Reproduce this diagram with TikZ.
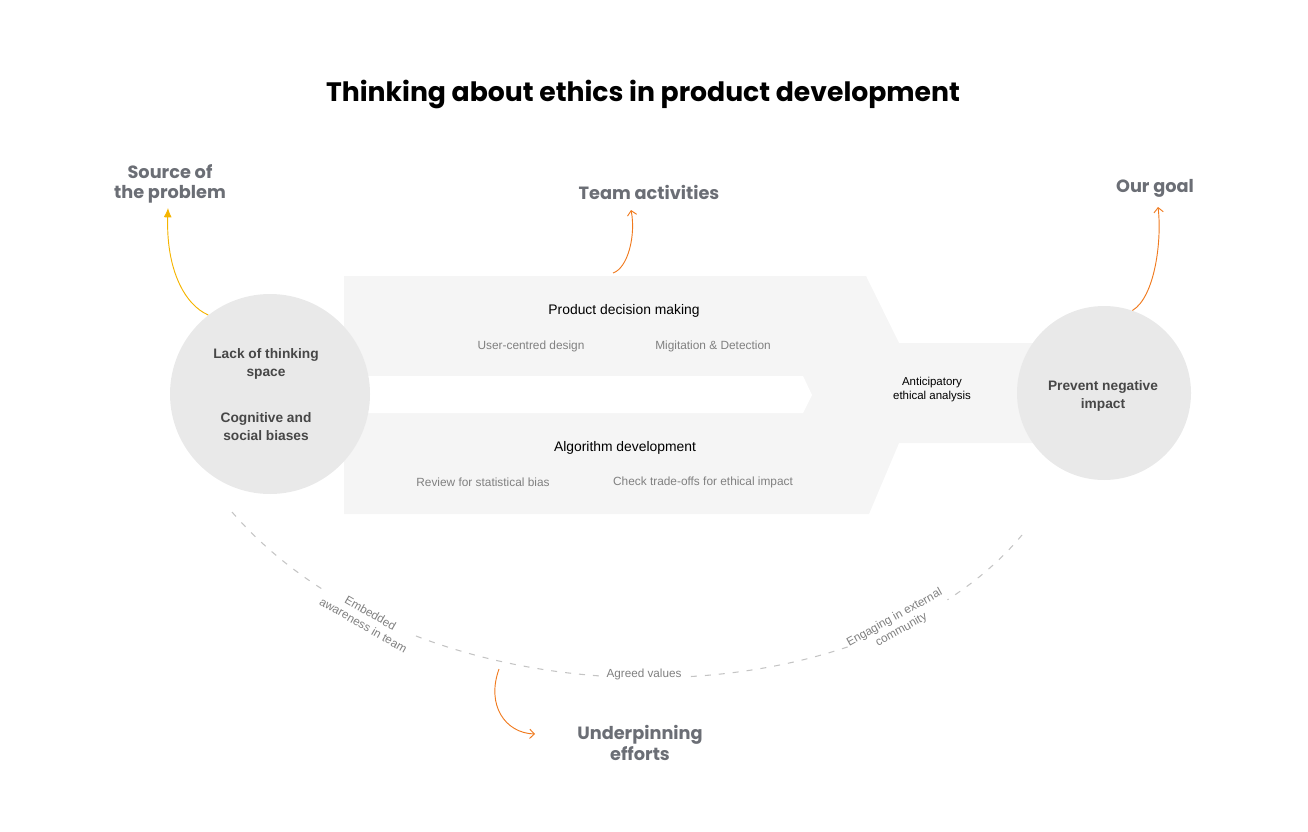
\documentclass[tikz,border=0pt]{standalone}
\usepackage{fontspec}
\setmainfont{Liberation Sans}
\newfontfamily\headfont{Poppins}
\usetikzlibrary{arrows.meta}

\definecolor{panelgray}{HTML}{F5F5F5}
\definecolor{bubblegray}{HTML}{E9E9E9}
\definecolor{headgray}{HTML}{6B6E75}
\definecolor{itemgray}{HTML}{808080}
\definecolor{darktext}{HTML}{474747}
\definecolor{arcgray}{HTML}{C4C4C4}
\definecolor{arroworange}{HTML}{F07A1E}
\definecolor{amber}{HTML}{F5B400}

\tikzset{
  heading/.style={font=\headfont\bfseries\fontsize{13.3}{15}\selectfont, text=headgray, align=center},
  bubble/.style={circle, fill=bubblegray, inner sep=0pt},
  bubbletext/.style={font=\bfseries\fontsize{10.3}{13.5}\selectfont, text=darktext, align=center},
  lane/.style={font=\fontsize{10.4}{12}\selectfont},
  item/.style={font=\fontsize{8.9}{10}\selectfont, text=itemgray},
  arclabel/.style={font=\fontsize{8.8}{10.6}\selectfont, text=itemgray, align=center, fill=white, inner sep=1pt},
  curvedarrow/.style={draw=arroworange, line width=0.7pt, -{Straight Barb[length=3.5pt,width=7pt]}},
}

\begin{document}
\begin{tikzpicture}[x=0.75pt,y=-0.75pt]
\useasboundingbox (0,0) rectangle (1308,831);

% title
\node (title) at (643,94) {\headfont\bfseries\fontsize{20}{22}\selectfont Thinking about ethics in product development};

% team activities band
\fill[panelgray] (344,276)--(866,276)--(899,343)--(1040,343)--(1040,443)--(899,443)--(869,514)--(344,514)--cycle;
\fill[white] (344,376)--(803,376)--(812,395)--(803,413)--(344,413)--cycle;

\node[bubble, minimum size=150pt] (problem) at (270,394) {};
\node[bubble, minimum size=130.5pt] (goal) at (1104,393) {};

\node[bubbletext] (lack) at (266,364) {Lack of thinking\\space};
\node[bubbletext] (biases) at (266,427) {Cognitive and\\social biases};
\node[bubbletext] (prevent) at (1103,396) {Prevent negative\\impact};

\node[lane] (product) at (624,311) {Product decision making};
\node[item] (usercentred) at (531,346) {User-centred design};
\node[item] (mitigation) at (713,346) {Migitation \& Detection};
\node[lane] (algorithm) at (625,448) {Algorithm development};
\node[item] (review) at (483,482) {Review for statistical bias};
\node[item] (tradeoffs) at (703,482) {Check trade-offs for ethical impact};
\node[lane, font=\fontsize{8.6}{10.5}\selectfont, align=center] (anticipatory) at (932,390) {Anticipatory\\ethical analysis};

% headings
\node[heading] (source) at (170,184) {Source of\\the problem};
\node[heading] (team) at (649,192) {Team activities};
\node[heading] (ourgoal) at (1155,188) {Our goal};
\node[heading, font=\headfont\bfseries\fontsize{13.3}{13}\selectfont] (underpin) at (640,743) {Underpinning\\efforts};

% underpinning arc
\draw[arcgray, line width=0.8pt, dash pattern=on 4.5pt off 6pt] (232,512) .. controls (420,729) and (860,729) .. (1022,535);
\node[arclabel, rotate=-30] (embedded) at (367,619) {Embedded\\awareness in team};
\node[arclabel] (agreed) at (644,674) {Agreed values};
\node[arclabel, rotate=29] (engaging) at (898,624) {Engaging in external\\community};

% pointers
\coordinate (teamstart) at (613,273);
\coordinate (arcstart) at (499,669);
\draw[amber, line width=0.7pt, -{Latex[length=7pt,width=6pt]}] (problem.128) .. controls (185,305) and (166,270) .. (168,208);
\draw[curvedarrow] (teamstart) .. controls (628,268) and (636,235) .. (631,210);
\draw[curvedarrow] (goal.71) .. controls (1155,297) and (1162,240) .. (1158,207);
\draw[curvedarrow] (arcstart) .. controls (486,705) and (505,733) .. (535,734);

\end{tikzpicture}
\end{document}
